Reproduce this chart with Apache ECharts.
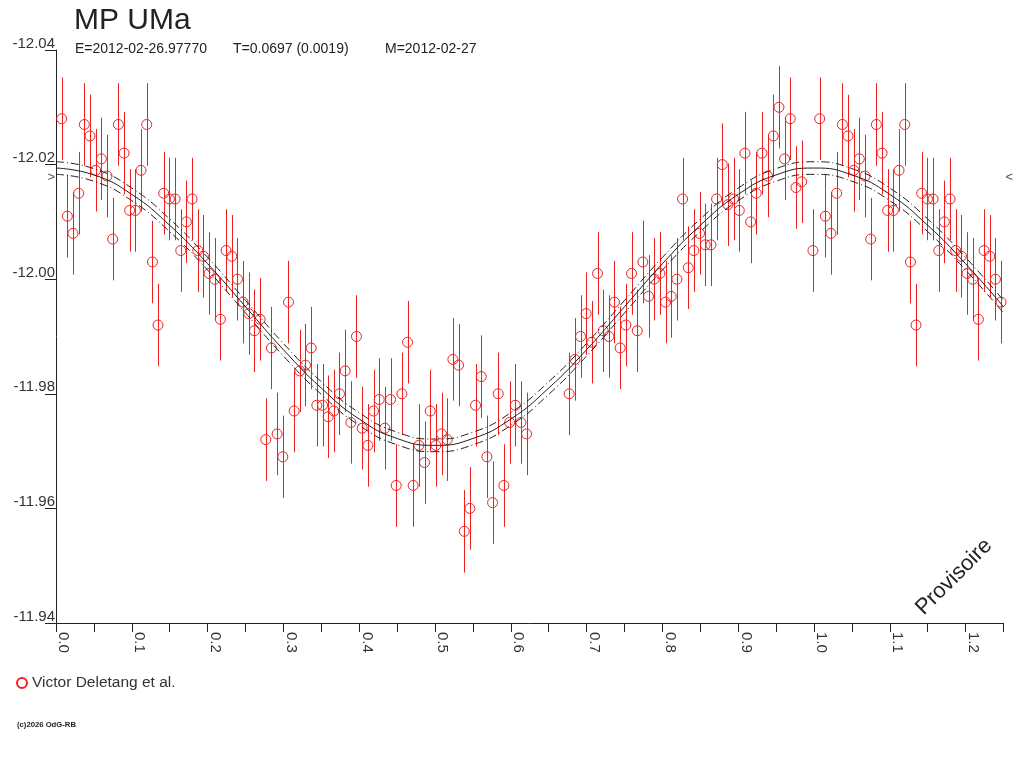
<!DOCTYPE html>
<html>
<head>
<meta charset="utf-8">
<script src="https://cdn.jsdelivr.net/npm/echarts@6/dist/echarts.min.js"></script>
<style>
html, body { margin: 0; padding: 0; background: #fff; }
#chart { width: 1024px; height: 768px; }
</style>
</head>
<body>
<div id="chart"></div>
<script>
// phase / magnitude of each measurement (one cycle, 0..1)
var phases = [
  0.0075, 0.0150, 0.0224, 0.0299, 0.0374, 0.0449, 0.0524, 0.0598, 0.0673, 0.0748,
  0.0823, 0.0898, 0.0972, 0.1047, 0.1122, 0.1197, 0.1272, 0.1346, 0.1421, 0.1496,
  0.1571, 0.1646, 0.1720, 0.1795, 0.1870, 0.1945, 0.2020, 0.2094, 0.2169, 0.2244,
  0.2319, 0.2394, 0.2468, 0.2543, 0.2618, 0.2693, 0.2768, 0.2842, 0.2917, 0.2992,
  0.3067, 0.3142, 0.3216, 0.3291, 0.3366, 0.3441, 0.3516, 0.3590, 0.3665, 0.3740,
  0.3815, 0.3890, 0.3964, 0.4039, 0.4114, 0.4189, 0.4264, 0.4338, 0.4413, 0.4488,
  0.4563, 0.4638, 0.4712, 0.4787, 0.4862, 0.4937, 0.5012, 0.5086, 0.5161, 0.5236,
  0.5311, 0.5386, 0.5460, 0.5535, 0.5610, 0.5685, 0.5760, 0.5834, 0.5909, 0.5984,
  0.6059, 0.6134, 0.6208,
  0.6770, 0.6845, 0.6920, 0.6994, 0.7069, 0.7144, 0.7219, 0.7294, 0.7368, 0.7443,
  0.7518, 0.7593, 0.7668, 0.7742, 0.7817, 0.7892, 0.7967, 0.8042, 0.8116, 0.8191,
  0.8266, 0.8341, 0.8416, 0.8490, 0.8565, 0.8640, 0.8715, 0.8790, 0.8864, 0.8939,
  0.9014, 0.9089, 0.9164, 0.9238, 0.9313, 0.9388, 0.9463, 0.9538, 0.9612, 0.9687,
  0.9762, 0.9837, 0.9986
];
var mags = [
  -12.028, -12.011, -12.008, -12.015, -12.027, -12.025, -12.019, -12.021, -12.018, -12.007,
  -12.027, -12.022, -12.012, -12.012, -12.019, -12.027, -12.003, -11.992, -12.015, -12.014,
  -12.014, -12.005, -12.010, -12.014, -12.005, -12.004, -12.001, -12.000, -11.993, -12.005,
  -12.004, -12.000, -11.996, -11.994, -11.991, -11.993, -11.972, -11.988, -11.973, -11.969,
  -11.996, -11.977, -11.984, -11.985, -11.988, -11.978, -11.978, -11.976, -11.977, -11.980,
  -11.984, -11.975, -11.990, -11.974, -11.971, -11.977, -11.979, -11.974, -11.979, -11.964,
  -11.980, -11.989, -11.964, -11.971, -11.968, -11.977, -11.971, -11.973, -11.972, -11.986,
  -11.985, -11.956, -11.960, -11.978, -11.983, -11.969, -11.961, -11.980, -11.964, -11.975,
  -11.978, -11.975, -11.973,
  -11.980, -11.986, -11.990, -11.994, -11.989, -12.001, -11.991, -11.990, -11.996, -11.988,
  -11.992, -12.001, -11.991, -12.003, -11.997, -12.000, -12.001, -11.996, -11.997, -12.000,
  -12.014, -12.002, -12.005, -12.008, -12.006, -12.006, -12.014, -12.020, -12.013, -12.014,
  -12.012, -12.022, -12.010, -12.015, -12.022, -12.018, -12.025, -12.030, -12.021, -12.028,
  -12.016, -12.017, -12.005
];
var magErr = 0.0072;

// fitted light curve, with its envelope
var fitPhases = [0, 0.05, 0.10, 0.15, 0.20, 0.25, 0.30, 0.35, 0.40, 0.45, 0.50, 0.55, 0.60,
  0.65, 0.70, 0.75, 0.80, 0.85, 0.90, 0.95, 1.00, 1.05, 1.10, 1.15, 1.20, 1.25];
var fitMags = [-12.0194, -12.0182, -12.0148, -12.0094, -12.0027, -11.9952, -11.9877, -11.9810,
  -11.9756, -11.9722, -11.9710, -11.9722, -11.9756, -11.9810, -11.9877, -11.9952, -12.0027,
  -12.0094, -12.0148, -12.0182, -12.0194, -12.0182, -12.0148, -12.0094, -12.0027, -11.9952];
var fitBand = 0.0011;
var markLevel = -12.0178;

var phaseMax = 1.25;
var magTop = -12.04, magBottom = -11.94;
var font = 'Liberation Sans, Arial, sans-serif';
var red = '#f02020';
var ink = '#222';

var chart = echarts.init(document.getElementById('chart'), null, {renderer: 'canvas'});

// fold: repeat the start of the cycle after phase 1
var points = [];
for (var i = 0; i < phases.length; i++) {
  points.push([phases[i], mags[i]]);
  if (phases[i] + 1 <= phaseMax) points.push([phases[i] + 1, mags[i]]);
}
var fit = [], fitUp = [], fitDown = [];
for (var j = 0; j < fitPhases.length; j++) {
  fit.push([fitPhases[j], fitMags[j]]);
  fitUp.push([fitPhases[j], fitMags[j] - fitBand]);
  fitDown.push([fitPhases[j], fitMags[j] + fitBand]);
}

function errorBar(params, api) {
  var a = api.coord([api.value(0), api.value(1) - magErr]);
  var b = api.coord([api.value(0), api.value(1) + magErr]);
  var x = Math.round(a[0]) + 0.5;
  return {
    type: 'line',
    shape: {x1: x, y1: a[1], x2: x, y2: b[1]},
    style: {stroke: red, lineWidth: 1}
  };
}

var curveLine = function (dashed) {
  return {color: ink, width: 1, type: dashed ? [8, 3, 1, 3] : 'solid'};
};

var subStyle = {fontSize: 14, fontWeight: 'normal', color: ink, fontFamily: font};

chart.setOption({
  animation: false,
  backgroundColor: '#fff',
  title: [
    {text: 'MP UMa', left: 74, top: 6, padding: 0,
     textStyle: {fontSize: 30, fontWeight: 'normal', color: ink, fontFamily: font}},
    {text: 'E=2012-02-26.97770', left: 75, top: 42, padding: 0, textStyle: subStyle},
    {text: 'T=0.0697 (0.0019)', left: 233, top: 42, padding: 0, textStyle: subStyle},
    {text: 'M=2012-02-27', left: 385, top: 42, padding: 0, textStyle: subStyle},
    {text: '(c)2026 OdG-RB', left: 17, top: 721, padding: 0,
     textStyle: {fontSize: 7.7, fontWeight: 'bold', color: ink, fontFamily: font}}
  ],
  legend: {
    data: ['Victor Deletang et al.'],
    left: 16, top: 675, padding: 0,
    itemWidth: 10, itemHeight: 10,
    textStyle: {fontSize: 15.5, color: '#333', fontFamily: font}
  },
  graphic: [
    {type: 'text', x: 954, y: 577, rotation: Math.PI / 4,
     style: {text: 'Provisoire', fontSize: 22, fontFamily: font, fill: ink,
             align: 'center', verticalAlign: 'middle'}}
  ],
  grid: {left: 56, right: 20.5, top: 50, bottom: 145, containLabel: false},
  xAxis: {
    type: 'value', min: 0, max: phaseMax, interval: 0.1,
    axisLine: {lineStyle: {color: ink, width: 1}},
    axisTick: {show: true, length: 9, lineStyle: {color: ink}},
    minorTick: {show: true, splitNumber: 2, length: 9, lineStyle: {color: ink}},
    splitLine: {show: false},
    axisLabel: {
      rotate: -90, margin: 9, fontSize: 15, color: '#333', fontFamily: font,
      align: 'left', verticalAlign: 'bottom',
      showMaxLabel: false,
      formatter: function (v) { return v.toFixed(1); }
    }
  },
  yAxis: {
    type: 'value', inverse: true, min: magTop, max: magBottom, interval: 0.02,
    axisLine: {show: true, lineStyle: {color: ink, width: 1}},
    axisTick: {show: true, length: 11, lineStyle: {color: ink}},
    splitLine: {show: false},
    axisLabel: {
      margin: 1, fontSize: 15, color: '#333', fontFamily: font,
      verticalAlign: 'bottom', lineHeight: 13,
      formatter: function (v) { return v.toFixed(2); }
    }
  },
  series: [
    {
      name: 'errors', type: 'custom', renderItem: errorBar,
      data: points, encode: {x: 0, y: 1}, clip: true, silent: true, z: 1
    },
    {
      name: 'Victor Deletang et al.', type: 'scatter', data: points,
      symbol: 'circle', symbolSize: 10,
      itemStyle: {color: 'rgba(255,255,255,0)', borderColor: red, borderWidth: 1, opacity: 1},
      z: 2
    },
    {type: 'line', data: fit, smooth: true, showSymbol: false, lineStyle: curveLine(false), silent: true, z: 3},
    {type: 'line', data: fitUp, smooth: true, showSymbol: false, lineStyle: curveLine(true), silent: true, z: 3},
    {type: 'line', data: fitDown, smooth: true, showSymbol: false, lineStyle: curveLine(true), silent: true, z: 3},
    {
      type: 'scatter', symbolSize: 0, silent: true, z: 4,
      data: [
        {value: [0, markLevel], label: {show: true, formatter: '>', position: 'left', distance: 1}},
        {value: [phaseMax, markLevel], label: {show: true, formatter: '<', position: 'right', distance: 2}}
      ],
      label: {fontSize: 13, color: ink, fontFamily: font}
    }
  ]
});
</script>
</body>
</html>
